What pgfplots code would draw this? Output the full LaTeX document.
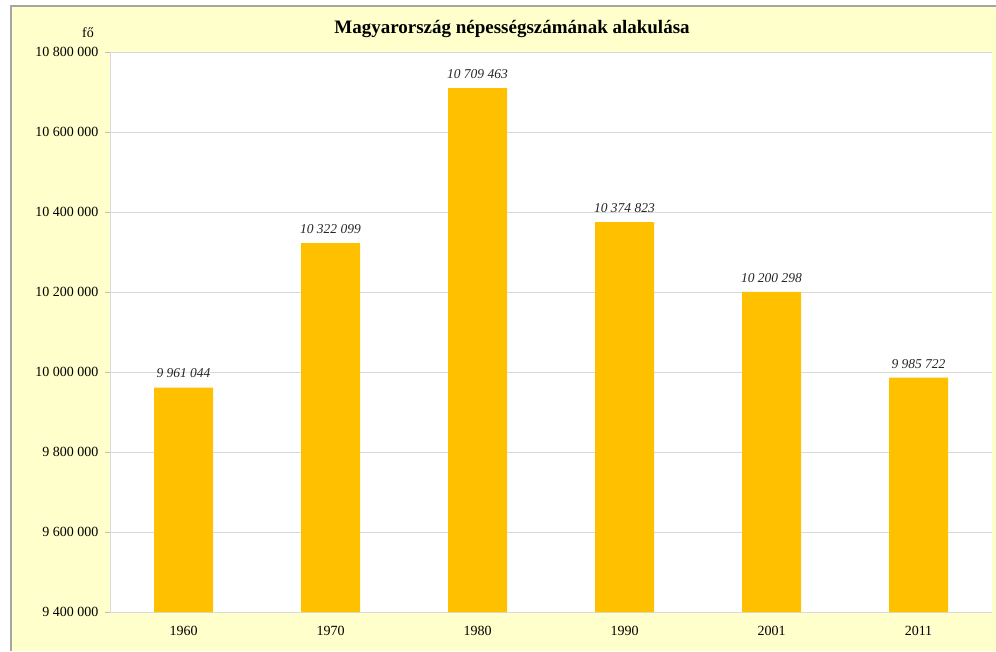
\documentclass[border=0pt]{standalone}
\usepackage{fontspec}
\setmainfont{Liberation Serif}
\usepackage{pgfplots}
\pgfplotsset{compat=1.18}
\definecolor{chartbg}{HTML}{FFFFCC}
\definecolor{barcol}{HTML}{FFC000}
\definecolor{gridcol}{HTML}{D9D9D9}
\definecolor{axiscol}{HTML}{BFBFBF}
\definecolor{framecol}{HTML}{A6A6A6}
\begin{document}
\begin{tikzpicture}[x=1pt,y=1pt]
\useasboundingbox (0,0) rectangle (996,651);
\fill[white] (0,0) rectangle (996,651);
\fill[chartbg] (11,0) rectangle (996,645);
\draw[framecol,line width=1.2pt] (11,0) -- (11,645) -- (996,645);
\node[font=\fontsize{19}{22}\selectfont\bfseries] at (512,622) {Magyarország népességszámának alakulása};
\node[anchor=east,font=\fontsize{14}{16}\selectfont,inner sep=0pt] at (94,618) {fő};
\begin{axis}[
  at={(110pt,39pt)}, anchor=south west,
  scale only axis, width=882pt, height=560pt,
  axis background/.style={fill=white},
  xmin=-0.5, xmax=5.5,
  ymin=9400000, ymax=10800000,
  ytick={9400000,9600000,...,10800000},
  scaled y ticks=false,
  /pgf/number format/.cd, fixed, 1000 sep={\ }, assume math mode=true,
  /pgfplots/.cd,
  yticklabel style={font=\fontsize{14}{16}\selectfont, color=black, xshift=-3pt},
  xticklabel style={font=\fontsize{14}{16}\selectfont, color=black, yshift=-6pt},
  xtick={0,1,2,3,4,5},
  xticklabels={1960,1970,1980,1990,2001,2011},
  xtick style={draw=none},
  extra x ticks={-0.5,0.5,1.5,2.5,3.5,4.5,5.5},
  extra x tick labels={},
  extra x tick style={grid=none, major tick length=5pt, tick align=outside, tick style={draw=axiscol}},
  ytick style={draw=axiscol},
  major tick length=5pt, tick align=outside,
  ymajorgrids, grid style={gridcol, line width=0.8pt},
  axis x line*=bottom, axis y line*=left,
  axis line style={draw=gridcol, line width=1pt},
  separate axis lines,
  x axis line style={-}, y axis line style={-},
  ybar, bar width=59pt,
  point meta=explicit symbolic,
  nodes near coords,
  every node near coord/.append style={font=\fontsize{13.5}{16}\selectfont\itshape, yshift=6pt, color=black!85},
  clip=false,
]
\addplot[fill=barcol, draw=none] coordinates {
 (0,9961044) [9 961 044]
 (1,10322099) [10 322 099]
 (2,10709463) [10 709 463]
 (3,10374823) [10 374 823]
 (4,10200298) [10 200 298]
 (5,9985722) [9 985 722]
};
\end{axis}
\end{tikzpicture}
\end{document}
